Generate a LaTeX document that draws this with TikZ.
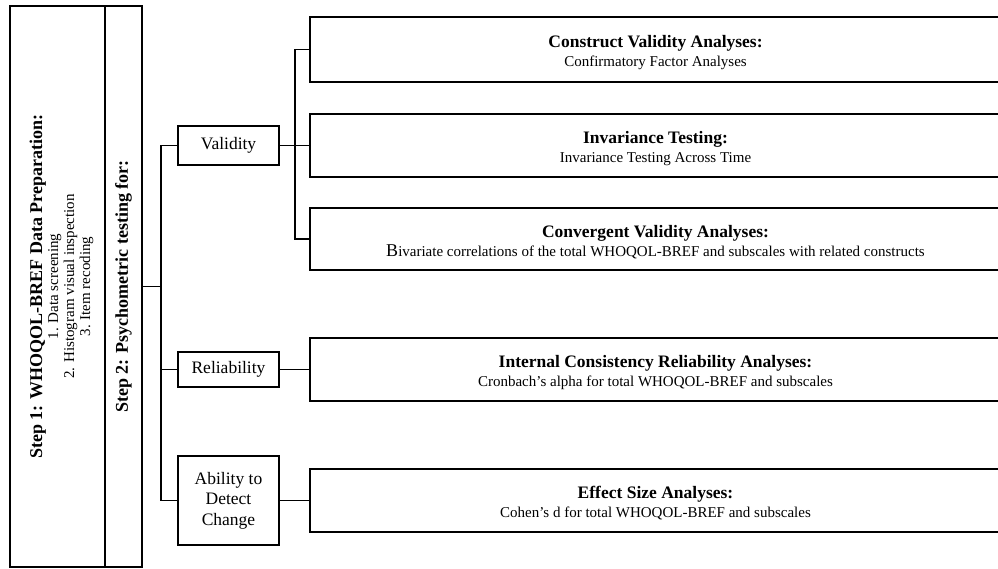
\documentclass[tikz,border=0pt]{standalone}
\usepackage{fontspec}
\setmainfont{Liberation Serif}
\usepackage{tikz}

\begin{document}
\begin{tikzpicture}[x=1pt,y=-1pt,line width=1.2pt,
  stepbox/.style={draw,rectangle,inner sep=0pt,rotate=90,align=center,
    minimum width=561pt,minimum height=#1},
  testbox/.style={draw,rectangle,inner sep=0pt,align=center,
    minimum width=101pt,font=\fontsize{17.5}{20.5}\selectfont},
  analysisbox/.style={draw,rectangle,inner sep=0pt,align=center,
    minimum width=691pt,minimum height=63pt,font=\fontsize{15}{19}\selectfont}
]

%% all positions are in px of the final page (1 unit = 1pt), y runs downwards
%% analysis boxes run past the right page edge on purpose

\def\TitleFont{\bfseries\fontsize{17.5}{19}\selectfont}
\def\StepFont{\bfseries\fontsize{18}{16}\selectfont}
\def\BoxTitle#1{\rule{0pt}{18pt}{\TitleFont #1}}

\useasboundingbox (0,0) rectangle (998,568);

%% the two stacked step columns
\node[stepbox=95pt] (step1) at (57.5,286.5) {};
\node[rotate=90,align=center,inner sep=0pt,font=\fontsize{15}{16}\selectfont] (step1text) at (61.5,286.5)
  {{\StepFont Step 1: WHOQOL-BREF Data Preparation:}\\
   1. Data screening\\
   2. Histogram visual inspection\\
   3. Item recoding};
\node[stepbox=37pt] (step2) at (123.5,286.5)
  {\StepFont Step 2: Psychometric testing for:};

%% what gets tested
\node[testbox,minimum height=39pt] (valid)   at (228.5,145.5) {Validity};
\node[testbox,minimum height=35pt] (reli)    at (228.5,369.5) {Reliability};
\node[testbox,minimum height=89pt] (ability) at (228.5,500.5) {Ability to\\Detect\\Change};

%% how it gets tested
\node[analysisbox,minimum height=65pt] (construct) at (655.5,49.5)
  {\BoxTitle{Construct Validity Analyses:}\\ Confirmatory Factor Analyses};
\node[analysisbox] (invar) at (655.5,145.5)
  {\BoxTitle{Invariance Testing:}\\ Invariance Testing Across Time};
\node[analysisbox,minimum height=62pt] (convergent) at (655.5,239)
  {\BoxTitle{Convergent Validity Analyses:}\\
   {\fontsize{18}{19}\selectfont B}ivariate correlations of the total WHOQOL-BREF and subscales with related constructs};
\node[analysisbox] (internal) at (655.5,369.5)
  {\BoxTitle{Internal Consistency Reliability Analyses:}\\ Cronbach's alpha for total WHOQOL-BREF and subscales};
\node[analysisbox] (effect) at (655.5,500.5)
  {\BoxTitle{Effect Size Analyses:}\\ Cohen's d for total WHOQOL-BREF and subscales};

%% branching lines
\coordinate (trunk)  at (161,286.5);
\coordinate (vsplit) at (295,145.5);

\draw (step2.south) -- (trunk);
\draw (valid.west) -| (trunk);
\draw (reli.west) -| (trunk);
\draw (ability.west) -| (trunk);

\draw (valid.east) -- (vsplit);
\draw (construct.west) -| (vsplit);
\draw (invar.west) -- (vsplit);
\draw (convergent.west) -| (vsplit);

\draw (reli.east) -- (internal.west);
\draw (ability.east) -- (effect.west);

\end{tikzpicture}
\end{document}
